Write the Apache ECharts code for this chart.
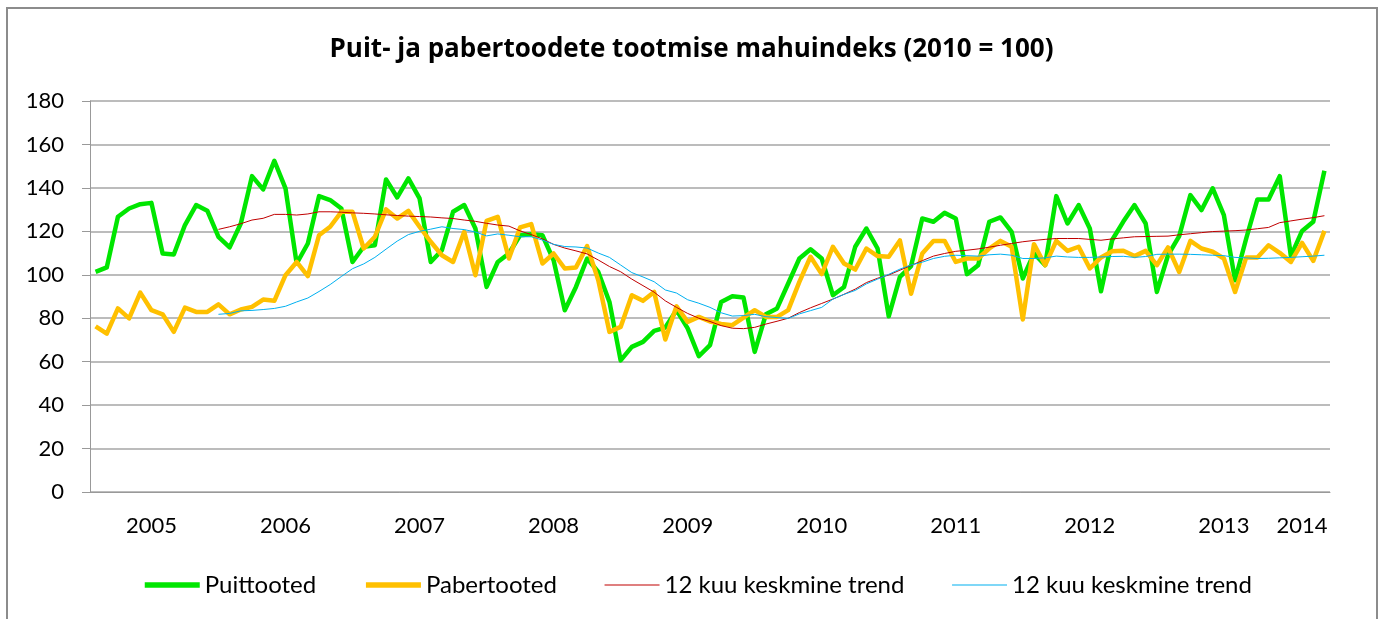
<!DOCTYPE html>
<html>
<head>
<meta charset="utf-8">
<title>Puit- ja pabertoodete tootmise mahuindeks</title>
<script src="https://cdn.jsdelivr.net/npm/echarts@6/dist/echarts.min.js"></script>
<style>
  html, body { margin: 0; padding: 0; background: #fff; }
  #chart { width: 1383px; height: 619px; }
</style>
</head>
<body>
<div id="chart"></div>
<script>
// kuud jaan 2005 - märts 2014
const years = ['2005', '2006', '2007', '2008', '2009', '2010', '2011', '2012', '2013', '2014'];
const monthsInYear = [12, 12, 12, 12, 12, 12, 12, 12, 12, 3];

const puittooted = [
  101.3, 103.4, 126.7, 130.5, 132.5, 133.1, 109.8, 109.3, 122.9, 132.1, 129.5, 117.5,
  112.6, 123.6, 145.4, 139.3, 152.5, 139.8, 105.2, 114.4, 136.2, 134.4, 130.5, 105.9,
  112.9, 113.6, 143.9, 135.6, 144.4, 135.2, 105.9, 111.3, 129.0, 132.1, 121.3, 94.4,
  105.9, 109.8, 118.2, 118.7, 118.2, 106.7, 83.7, 94.4, 107.5, 101.3, 87.5, 60.6,
  66.8, 69.1, 74.2, 75.7, 83.7, 75.3, 62.5, 67.6, 87.5, 90.1, 89.5, 64.5,
  81.8, 84.5, 96.0, 107.5, 111.7, 107.5, 90.6, 94.4, 112.9, 121.3, 112.1, 80.9,
  99.0, 104.0, 125.9, 124.4, 128.5, 125.9, 100.3, 104.4, 124.4, 126.4, 119.8, 98.3,
  109.8, 104.4, 136.2, 123.6, 132.1, 121.3, 92.4, 116.0, 124.5, 132.1, 123.6, 92.1,
  109.0, 117.8, 136.7, 129.8, 139.8, 127.5, 97.5, 116.7, 134.7, 134.7, 145.4, 108.6,
  120.2, 124.4, 147.9
];

const pabertooted = [
  76.3, 72.9, 84.5, 79.9, 91.8, 83.7, 81.8, 73.7, 84.9, 82.9, 82.9, 86.4,
  81.8, 84.0, 85.2, 88.6, 88.0, 99.8, 105.9, 99.4, 118.2, 122.1, 129.0, 129.0,
  112.1, 117.5, 130.1, 125.9, 129.4, 122.1, 115.2, 109.0, 105.9, 119.8, 99.8, 124.8,
  126.7, 107.5, 121.8, 123.3, 105.2, 109.8, 102.9, 103.4, 113.2, 97.5, 73.7, 76.0,
  90.6, 88.0, 92.1, 70.2, 85.5, 78.3, 80.6, 78.5, 77.4, 76.8, 80.3, 83.7,
  80.6, 80.6, 83.7, 96.7, 108.3, 100.3, 112.9, 105.2, 102.4, 112.1, 108.6, 108.3,
  115.8, 91.3, 109.8, 115.6, 115.6, 105.9, 107.5, 107.5, 112.1, 115.6, 112.9, 79.4,
  114.1, 104.4, 115.6, 111.0, 112.9, 102.9, 108.0, 110.8, 111.1, 108.6, 111.0, 104.4,
  112.6, 101.3, 115.6, 112.1, 110.6, 107.5, 92.1, 108.0, 108.0, 113.6, 110.1, 105.9,
  114.7, 106.4, 120.2
];

// 12 kuu libisev keskmine, algab detsembrist 2005
const trendPuit = [
  null, null, null, null, null, null, null, null, null, null, null, 120.9,
  122.1, 123.5, 125.2, 126.0, 127.8, 127.8, 127.5, 128.0, 129.0, 129.0, 128.8, 128.5,
  128.3, 128.0, 127.6, 127.3, 127.0, 126.8, 126.6, 126.2, 125.9, 125.2, 124.6, 123.7,
  122.9, 122.4, 120.2, 118.5, 116.5, 114.0, 112.3, 111.0, 109.6, 106.8, 103.8, 101.4,
  98.0, 95.0, 92.0, 88.0, 85.0, 82.2, 80.0, 78.5, 76.6, 75.4, 75.2, 75.8,
  77.3, 78.6, 80.0, 82.6, 84.8, 86.8, 88.8, 91.0, 93.4, 96.4, 98.4, 99.9,
  102.1, 104.3, 106.5, 108.6, 109.8, 110.8, 111.3, 111.9, 112.7, 113.6, 114.4, 115.2,
  115.8, 116.3, 116.7, 116.7, 116.7, 116.3, 115.9, 116.5, 117.0, 117.5, 117.6, 117.7,
  117.8, 118.4, 118.9, 119.4, 119.9, 120.1, 120.3, 120.6, 121.2, 121.8, 124.0, 124.8,
  125.6, 126.3, 127.2
];

const trendPaber = [
  null, null, null, null, null, null, null, null, null, null, null, 81.8,
  82.2, 83.4, 83.6, 84.0, 84.5, 85.5, 87.5, 89.3, 92.3, 95.5, 99.2, 102.8,
  105.0, 108.0, 111.8, 115.5, 118.5, 120.0, 121.0, 122.1, 121.3, 120.8, 119.7, 117.9,
  118.8, 118.2, 117.5, 117.5, 116.0, 114.0, 113.0, 112.8, 112.3, 110.0, 108.0, 104.5,
  101.0, 99.0, 96.8, 93.0, 91.6, 88.5, 86.9, 85.0, 82.5, 81.0, 81.2, 81.8,
  80.7, 80.3, 79.9, 82.0, 83.5, 85.0, 88.8, 91.0, 92.8, 95.8, 98.0, 100.2,
  102.6, 104.5, 105.8, 107.5, 108.5, 109.0, 108.8, 108.6, 109.2, 109.5, 109.0, 107.5,
  107.5, 107.8, 108.6, 108.2, 108.0, 108.0, 108.2, 108.4, 108.5, 108.0, 108.4, 109.4,
  109.5, 109.5, 109.4, 109.2, 109.0, 108.8, 108.0, 107.8, 107.5, 107.6, 107.8, 108.0,
  108.3, 108.6, 109.0
];

const yTicks = { min: 0, max: 180, interval: 20 };

// kategooriad kujul "2005-01"
const months = [];
years.forEach(function (y, k) {
  for (let m = 1; m <= monthsInYear[k]; m++) {
    months.push(y + '-' + (m < 10 ? '0' + m : m));
  }
});

const font = 'Lato, "Open Sans", sans-serif';
const chart = echarts.init(document.getElementById('chart'));

const option = {
  backgroundColor: '#fff',
  animation: false,
  textStyle: { fontFamily: font },
  title: {
    text: 'Puit- ja pabertoodete tootmise mahuindeks (2010 = 100)',
    left: 'center',
    top: 32,
    textStyle: { fontFamily: '"Open Sans", Lato, sans-serif', fontSize: 26, fontWeight: 'bold', color: '#000' }
  },
  graphic: [{
    type: 'rect',
    shape: { x: 7, y: 8, width: 1370, height: 640 },
    style: { fill: 'none', stroke: '#8c8c8c', lineWidth: 2 },
    silent: true
  }],
  legend: {
    left: 137,
    top: 568,
    itemWidth: 55,
    itemHeight: 14,
    itemGap: 47,
    itemStyle: { opacity: 0 },
    textStyle: { fontFamily: font, fontSize: 24, color: '#000' },
    data: [
      { name: 'Puittooted', lineStyle: { width: 5.5 } },
      { name: 'Pabertooted', lineStyle: { width: 5.5 } },
      { name: '12 kuu keskmine trend', lineStyle: { width: 1.2 } },
      { name: '12 kuu keskmine trend ', lineStyle: { width: 1.2 } }
    ]
  },
  grid: { left: 90, right: 53, top: 101, bottom: 127 },
  xAxis: {
    type: 'category',
    data: months,
    boundaryGap: true,
    axisLine: { lineStyle: { color: '#999', width: 1 } },
    axisTick: {
      length: 8,
      lineStyle: { color: '#999' },
      interval: function (idx) { return idx % 12 === 0; }
    },
    axisLabel: {
      interval: function (idx) { return idx % 12 === 5 || idx === 108; },
      formatter: function (v) { return v.slice(0, 4); },
      fontFamily: font,
      fontSize: 22,
      color: '#000',
      margin: 23
    },
    splitLine: { show: false }
  },
  yAxis: {
    type: 'value',
    min: yTicks.min,
    max: yTicks.max,
    interval: yTicks.interval,
    axisLine: { show: true, lineStyle: { color: '#999', width: 1 } },
    axisTick: { show: true, length: 8, lineStyle: { color: '#999' } },
    axisLabel: { fontFamily: font, fontSize: 22, color: '#000', margin: 26 },
    splitLine: { lineStyle: { color: '#a6a6a6', width: 1.5 } }
  },
  series: [
    {
      name: '12 kuu keskmine trend',
      type: 'line',
      data: trendPuit,
      symbol: 'none',
      color: '#c00000',
      lineStyle: { width: 1, color: '#c00000' },
      z: 3
    },
    {
      name: '12 kuu keskmine trend ',
      type: 'line',
      data: trendPaber,
      symbol: 'none',
      color: '#00b0f0',
      lineStyle: { width: 1, color: '#00b0f0' },
      z: 3
    },
    {
      name: 'Pabertooted',
      type: 'line',
      data: pabertooted,
      symbol: 'none',
      color: '#ffc000',
      lineStyle: { width: 4.5, color: '#ffc000', join: 'round' },
      z: 2
    },
    {
      name: 'Puittooted',
      type: 'line',
      data: puittooted,
      symbol: 'none',
      color: '#00e600',
      lineStyle: { width: 4.5, color: '#00e600', join: 'round' },
      z: 1
    }
  ]
};

chart.setOption(option);
</script>
</body>
</html>
